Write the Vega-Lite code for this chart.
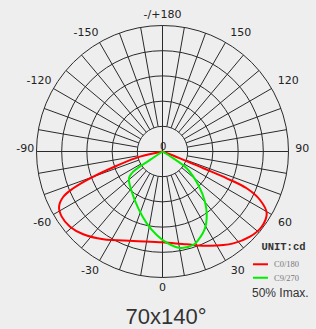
{
  "$schema": "https://vega.github.io/schema/vega-lite/v6.json",
  "width": 252,
  "height": 252,
  "autosize": {"type": "none"},
  "padding": {"left": 36.5, "top": 25.5, "right": 27.5, "bottom": 51.5},
  "background": "#eeeeef",
  "config": {"view": {"stroke": null}},
  "datasets": {
    "rings": [{"r": 20}, {"r": 40}, {"r": 60}, {"r": 80}, {"r": 100}],
    "spokes": [
      {"x": 0, "y": -100, "x2": 0, "y2": 100},
      {"x": -100, "y": 0, "x2": 100, "y2": 0},
      {"x": 3.47, "y": -19.70, "x2": 17.36, "y2": -98.48},
      {"x": 6.84, "y": -18.79, "x2": 34.20, "y2": -93.97},
      {"x": 10, "y": -17.32, "x2": 50, "y2": -86.60},
      {"x": 12.86, "y": -15.32, "x2": 64.28, "y2": -76.60},
      {"x": 15.32, "y": -12.86, "x2": 76.60, "y2": -64.28},
      {"x": 17.32, "y": -10, "x2": 86.60, "y2": -50},
      {"x": 18.79, "y": -6.84, "x2": 93.97, "y2": -34.20},
      {"x": 19.70, "y": -3.47, "x2": 98.48, "y2": -17.36},
      {"x": 19.70, "y": 3.47, "x2": 98.48, "y2": 17.36},
      {"x": 18.79, "y": 6.84, "x2": 93.97, "y2": 34.20},
      {"x": 17.32, "y": 10, "x2": 86.60, "y2": 50},
      {"x": 15.32, "y": 12.86, "x2": 76.60, "y2": 64.28},
      {"x": 12.86, "y": 15.32, "x2": 64.28, "y2": 76.60},
      {"x": 10, "y": 17.32, "x2": 50, "y2": 86.60},
      {"x": 6.84, "y": 18.79, "x2": 34.20, "y2": 93.97},
      {"x": 3.47, "y": 19.70, "x2": 17.36, "y2": 98.48},
      {"x": -3.47, "y": -19.70, "x2": -17.36, "y2": -98.48},
      {"x": -6.84, "y": -18.79, "x2": -34.20, "y2": -93.97},
      {"x": -10, "y": -17.32, "x2": -50, "y2": -86.60},
      {"x": -12.86, "y": -15.32, "x2": -64.28, "y2": -76.60},
      {"x": -15.32, "y": -12.86, "x2": -76.60, "y2": -64.28},
      {"x": -17.32, "y": -10, "x2": -86.60, "y2": -50},
      {"x": -18.79, "y": -6.84, "x2": -93.97, "y2": -34.20},
      {"x": -19.70, "y": -3.47, "x2": -98.48, "y2": -17.36},
      {"x": -19.70, "y": 3.47, "x2": -98.48, "y2": 17.36},
      {"x": -18.79, "y": 6.84, "x2": -93.97, "y2": 34.20},
      {"x": -17.32, "y": 10, "x2": -86.60, "y2": 50},
      {"x": -15.32, "y": 12.86, "x2": -76.60, "y2": 64.28},
      {"x": -12.86, "y": 15.32, "x2": -64.28, "y2": 76.60},
      {"x": -10, "y": 17.32, "x2": -50, "y2": 86.60},
      {"x": -6.84, "y": 18.79, "x2": -34.20, "y2": 93.97},
      {"x": -3.47, "y": 19.70, "x2": -17.36, "y2": 98.48}
    ],
    "curves": [
      {"s": "C0/180", "i": 1, "x": 0, "y": 0},
      {"s": "C0/180", "i": 2, "x": -17.9, "y": -4.1},
      {"s": "C0/180", "i": 3, "x": -36.3, "y": -11.3},
      {"s": "C0/180", "i": 4, "x": -57.5, "y": -21.3},
      {"s": "C0/180", "i": 5, "x": -70.8, "y": -29.2},
      {"s": "C0/180", "i": 6, "x": -78.7, "y": -35.9},
      {"s": "C0/180", "i": 7, "x": -82.1, "y": -43.8},
      {"s": "C0/180", "i": 8, "x": -80.0, "y": -51.7},
      {"s": "C0/180", "i": 9, "x": -73.4, "y": -59.7},
      {"s": "C0/180", "i": 10, "x": -62.9, "y": -65.7},
      {"s": "C0/180", "i": 11, "x": -47.0, "y": -69.7},
      {"s": "C0/180", "i": 12, "x": -23.2, "y": -71.0},
      {"s": "C0/180", "i": 13, "x": 0, "y": -72.1},
      {"s": "C0/180", "i": 14, "x": 19.2, "y": -73.7},
      {"s": "C0/180", "i": 15, "x": 37.7, "y": -74.8},
      {"s": "C0/180", "i": 16, "x": 56.2, "y": -72.9},
      {"s": "C0/180", "i": 17, "x": 69.4, "y": -67.6},
      {"s": "C0/180", "i": 18, "x": 78.7, "y": -59.7},
      {"s": "C0/180", "i": 19, "x": 82.7, "y": -49.0},
      {"s": "C0/180", "i": 20, "x": 77.4, "y": -38.5},
      {"s": "C0/180", "i": 21, "x": 66.8, "y": -29.2},
      {"s": "C0/180", "i": 22, "x": 51.0, "y": -21.3},
      {"s": "C0/180", "i": 23, "x": 32.4, "y": -13.3},
      {"s": "C0/180", "i": 24, "x": 13.9, "y": -5.4},
      {"s": "C0/180", "i": 25, "x": 0, "y": 0},
      {"s": "C9/270", "i": 1, "x": 0, "y": 0},
      {"s": "C9/270", "i": 2, "x": -9.9, "y": -6.7},
      {"s": "C9/270", "i": 3, "x": -23.2, "y": -16.0},
      {"s": "C9/270", "i": 4, "x": -26.6, "y": -21.3},
      {"s": "C9/270", "i": 5, "x": -24.4, "y": -31.9},
      {"s": "C9/270", "i": 6, "x": -19.2, "y": -45.1},
      {"s": "C9/270", "i": 7, "x": -12.5, "y": -57.0},
      {"s": "C9/270", "i": 8, "x": -4.6, "y": -66.3},
      {"s": "C9/270", "i": 9, "x": 3.6, "y": -72.6},
      {"s": "C9/270", "i": 10, "x": 13.9, "y": -76.6},
      {"s": "C9/270", "i": 11, "x": 24.4, "y": -74.2},
      {"s": "C9/270", "i": 12, "x": 28.4, "y": -70.2},
      {"s": "C9/270", "i": 13, "x": 33.7, "y": -61.0},
      {"s": "C9/270", "i": 14, "x": 35.1, "y": -50.4},
      {"s": "C9/270", "i": 15, "x": 33.7, "y": -39.8},
      {"s": "C9/270", "i": 16, "x": 28.4, "y": -26.6},
      {"s": "C9/270", "i": 17, "x": 19.2, "y": -13.3},
      {"s": "C9/270", "i": 18, "x": 8.6, "y": -5.4},
      {"s": "C9/270", "i": 19, "x": 0, "y": 0}
    ],
    "angles": [
      {"t": "-/+180", "x": 0, "y": 108.3},
      {"t": "150", "x": 62.1, "y": 93.8},
      {"t": "-150", "x": -60.7, "y": 93.8},
      {"t": "120", "x": 99.8, "y": 56.2},
      {"t": "-120", "x": -98, "y": 56.2},
      {"t": "90", "x": 111, "y": 1.7},
      {"t": "-90", "x": -109, "y": 1.7},
      {"t": "60", "x": 97.2, "y": -57},
      {"t": "-60", "x": -95.4, "y": -57},
      {"t": "30", "x": 59.7, "y": -94.6},
      {"t": "-30", "x": -57.5, "y": -94.6},
      {"t": "0", "x": 0, "y": -108.6}
    ],
    "center": [{"t": "0", "x": 0.5, "y": 3.6}],
    "unit": [{"t": "UNIT:cd", "x": 96.0, "y": -75.6}],
    "legendLines": [
      {"s": "C0/180", "x": 71.8, "x2": 83.7, "y": -89.5},
      {"s": "C9/270", "x": 71.8, "x2": 83.7, "y": -100.2}
    ],
    "legendText": [
      {"t": "C0/180", "x": 88.5, "y": -89.5},
      {"t": "C9/270", "x": 88.5, "y": -100.2}
    ],
    "imax": [{"t": "50% Imax.", "x": 71.0, "y": -112.5}],
    "title": [{"t": "70x140°", "x": 2.8, "y": -131.1}]
  },
  "layer": [
    {
      "data": {"name": "rings"},
      "mark": {"type": "arc", "filled": false, "stroke": "#2a2a2a", "strokeWidth": 1, "theta": 0, "theta2": 6.2832},
      "encoding": {
        "radius": {"field": "r", "type": "quantitative", "stack": null, "scale": {"type": "linear", "domain": [0, 100], "range": [0, 126], "zero": true}}
      }
    },
    {
      "data": {"name": "spokes"},
      "mark": {"type": "rule", "stroke": "#2a2a2a", "strokeWidth": 1},
      "encoding": {
        "x": {"field": "x", "type": "quantitative", "scale": {"domain": [-100, 100], "nice": false, "zero": false}, "axis": null},
        "y": {"field": "y", "type": "quantitative", "scale": {"domain": [-100, 100], "nice": false, "zero": false}, "axis": null},
        "x2": {"field": "x2"},
        "y2": {"field": "y2"}
      }
    },
    {
      "data": {"name": "curves"},
      "mark": {"type": "line", "strokeWidth": 2, "interpolate": "catmull-rom"},
      "encoding": {
        "x": {"field": "x", "type": "quantitative", "scale": {"domain": [-100, 100], "nice": false, "zero": false}, "axis": null},
        "y": {"field": "y", "type": "quantitative", "scale": {"domain": [-100, 100], "nice": false, "zero": false}, "axis": null},
        "order": {"field": "i", "type": "quantitative"},
        "color": {"field": "s", "type": "nominal", "scale": {"domain": ["C0/180", "C9/270"], "range": ["#ff0000", "#00ee00"]}, "legend": null}
      }
    },
    {
      "data": {"name": "angles"},
      "mark": {"type": "text", "font": "DejaVu Sans", "fontSize": 11, "fill": "#222", "align": "center", "baseline": "middle"},
      "encoding": {
        "x": {"field": "x", "type": "quantitative", "scale": {"domain": [-100, 100], "nice": false, "zero": false}, "axis": null},
        "y": {"field": "y", "type": "quantitative", "scale": {"domain": [-100, 100], "nice": false, "zero": false}, "axis": null},
        "text": {"field": "t"}
      }
    },
    {
      "data": {"name": "center"},
      "mark": {"type": "text", "font": "DejaVu Sans", "fontSize": 10, "fill": "#222", "align": "center", "baseline": "middle"},
      "encoding": {
        "x": {"field": "x", "type": "quantitative", "scale": {"domain": [-100, 100], "nice": false, "zero": false}, "axis": null},
        "y": {"field": "y", "type": "quantitative", "scale": {"domain": [-100, 100], "nice": false, "zero": false}, "axis": null},
        "text": {"field": "t"}
      }
    },
    {
      "data": {"name": "unit"},
      "mark": {"type": "text", "font": "Liberation Mono", "fontWeight": "bold", "fontSize": 10.5, "fill": "#333", "align": "center", "baseline": "middle"},
      "encoding": {
        "x": {"field": "x", "type": "quantitative", "scale": {"domain": [-100, 100], "nice": false, "zero": false}, "axis": null},
        "y": {"field": "y", "type": "quantitative", "scale": {"domain": [-100, 100], "nice": false, "zero": false}, "axis": null},
        "text": {"field": "t"}
      }
    },
    {
      "data": {"name": "legendLines"},
      "mark": {"type": "rule", "strokeWidth": 2},
      "encoding": {
        "x": {"field": "x", "type": "quantitative", "scale": {"domain": [-100, 100], "nice": false, "zero": false}, "axis": null},
        "x2": {"field": "x2"},
        "y": {"field": "y", "type": "quantitative", "scale": {"domain": [-100, 100], "nice": false, "zero": false}, "axis": null},
        "color": {"field": "s", "type": "nominal", "scale": {"domain": ["C0/180", "C9/270"], "range": ["#ff0000", "#00ee00"]}, "legend": null}
      }
    },
    {
      "data": {"name": "legendText"},
      "mark": {"type": "text", "font": "Liberation Serif", "fontSize": 8.5, "fill": "#777", "align": "left", "baseline": "middle"},
      "encoding": {
        "x": {"field": "x", "type": "quantitative", "scale": {"domain": [-100, 100], "nice": false, "zero": false}, "axis": null},
        "y": {"field": "y", "type": "quantitative", "scale": {"domain": [-100, 100], "nice": false, "zero": false}, "axis": null},
        "text": {"field": "t"}
      }
    },
    {
      "data": {"name": "imax"},
      "mark": {"type": "text", "font": "Liberation Sans", "fontSize": 12, "fill": "#333", "align": "left", "baseline": "middle"},
      "encoding": {
        "x": {"field": "x", "type": "quantitative", "scale": {"domain": [-100, 100], "nice": false, "zero": false}, "axis": null},
        "y": {"field": "y", "type": "quantitative", "scale": {"domain": [-100, 100], "nice": false, "zero": false}, "axis": null},
        "text": {"field": "t"}
      }
    },
    {
      "data": {"name": "title"},
      "mark": {"type": "text", "font": "Liberation Sans", "fontSize": 22, "fill": "#333", "align": "center", "baseline": "middle"},
      "encoding": {
        "x": {"field": "x", "type": "quantitative", "scale": {"domain": [-100, 100], "nice": false, "zero": false}, "axis": null},
        "y": {"field": "y", "type": "quantitative", "scale": {"domain": [-100, 100], "nice": false, "zero": false}, "axis": null},
        "text": {"field": "t"}
      }
    }
  ]
}
